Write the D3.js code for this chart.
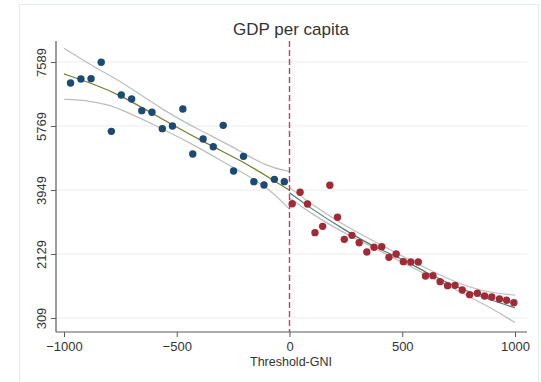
<!DOCTYPE html>
<html>
<head>
<meta charset="utf-8">
<script src="https://cdn.jsdelivr.net/npm/d3@7"></script>
<style>
  html, body { margin: 0; padding: 0; background: #ffffff; }
  svg { display: block; font-family: "Liberation Sans", Arial, sans-serif; }
</style>
</head>
<body>
<svg id="chart" width="541" height="382"></svg>
<script>
// Binned means below the threshold
const leftX = [-971, -925, -880, -835, -790, -746, -700, -655, -610, -564, -519,
               -473, -429, -383, -338, -294, -248, -204, -158, -113, -67, -23];
const leftY = [6992, 7106, 7115, 7580, 5617, 6651, 6537, 6205, 6158, 5693, 5769,
               6252, 4973, 5399, 5181, 5788, 4489, 4906, 4186, 4091, 4252, 4186];

// Binned means above the threshold
const rightX = [12, 47, 80, 113, 147, 179, 213, 243, 277, 309, 343, 375, 409, 441, 473,
                505, 538, 571, 603, 636, 668, 701, 734, 766, 799, 833, 865, 897, 931, 963, 995];
const rightY = [3560, 3883, 3551, 2736, 2916, 4082, 3172, 2546, 2660, 2451, 2186, 2319, 2338, 2034, 2129,
                1911, 1902, 1902, 1503, 1513, 1342, 1229, 1238, 1105, 973, 1011, 935, 906, 849, 812, 745];

// Local polynomial fit and confidence band, left side
const fitLX   = [-1000, -880, -750, -530, -340, -205, -86, 0];
const fitLY   = [7250, 6990, 6660, 5830, 5180, 4754, 4282, 3940];
const upLX    = [-1000, -850, -750, -564, -400, -250, -100, 0];
const upLY    = [7980, 7380, 7050, 6230, 5650, 5180, 4600, 4480];
const loLX    = [-1000, -900, -800, -750, -564, -400, -250, -100, 0];
const loLY    = [6530, 6500, 6370, 6250, 5700, 5150, 4580, 4060, 3400];

// Local polynomial fit and confidence band, right side
const fitRX   = [0, 100, 250, 375, 500, 600, 750, 900, 1000];
const fitRY   = [3870, 3400, 2790, 2330, 1990, 1620, 1160, 800, 600];
const upRX    = [0, 100, 250, 500, 750, 900, 1000];
const upRY    = [4020, 3530, 2900, 2070, 1250, 1020, 960];
const loRX    = [0, 100, 250, 500, 750, 900, 1000];
const loRY    = [3720, 3260, 2690, 1900, 1070, 580, 180];

const yTicks = [309, 2129, 3949, 5769, 7589];
const xTicks = [-1000, -500, 0, 500, 1000];

const svg = d3.select("#chart");

// outer frame
svg.append("rect")
  .attr("x", 19.5).attr("y", 4.5).attr("width", 519).attr("height", 380)
  .attr("fill", "none").attr("stroke", "#e4ebf1");

const x = d3.scaleLinear().domain([-1000, 1000]).range([64, 515]);
const y = d3.scaleLinear().domain([309, 7589]).range([318, 62]);

const plotL = 56, plotR = 527, plotT = 41, plotB = 332;

// gridlines
svg.append("g").selectAll("line").data(yTicks).join("line")
  .attr("x1", plotL).attr("x2", plotR)
  .attr("y1", d => y(d)).attr("y2", d => y(d))
  .attr("stroke", "#ececec").attr("stroke-width", 1);

// axes
const xAxis = svg.append("g").attr("transform", `translate(0,${plotB})`)
  .call(d3.axisBottom(x).tickValues(xTicks).tickSize(5).tickPadding(2).tickFormat(d3.format("d")));
const yAxis = svg.append("g").attr("transform", `translate(${plotL},0)`)
  .call(d3.axisLeft(y).tickValues(yTicks).tickSize(5).tickPadding(4).tickFormat(d3.format("d")));

[xAxis, yAxis].forEach(g => {
  g.select(".domain").remove();
  g.selectAll(".tick line").attr("stroke", "#5a5a5a");
  g.selectAll(".tick text").attr("fill", "#333").attr("font-size", 13)
    .attr("font-family", "Liberation Sans, Arial, sans-serif");
});
xAxis.selectAll(".tick text").attr("dy", "0.9em");
yAxis.selectAll(".tick text")
  .attr("text-anchor", "middle")
  .attr("transform", "rotate(-90)")
  .attr("x", 0).attr("dy", 0)
  .attr("y", -10);

// axis lines
svg.append("line").attr("x1", plotL).attr("x2", plotL).attr("y1", plotT).attr("y2", plotB)
  .attr("stroke", "#5a5a5a").attr("stroke-width", 1.2);
svg.append("line").attr("x1", plotL).attr("x2", plotR).attr("y1", plotB).attr("y2", plotB)
  .attr("stroke", "#5a5a5a").attr("stroke-width", 1.2);

// curves
const line = d3.line().x(d => x(d[0])).y(d => y(d[1])).curve(d3.curveBasis);
const zip = (a, b) => a.map((v, i) => [v, b[i]]);

const ciColor = "#bdbdbd";
[[upLX, upLY], [loLX, loLY], [upRX, upRY], [loRX, loRY]].forEach(([a, b]) => {
  svg.append("path").attr("d", line(zip(a, b)))
    .attr("fill", "none").attr("stroke", ciColor).attr("stroke-width", 1.2);
});
svg.append("path").attr("d", line(zip(fitLX, fitLY)))
  .attr("fill", "none").attr("stroke", "#6f7d2a").attr("stroke-width", 1.2);
svg.append("path").attr("d", line(zip(fitRX, fitRY)))
  .attr("fill", "none").attr("stroke", "#4d7f73").attr("stroke-width", 1.2);

// threshold
svg.append("line").attr("x1", x(0)).attr("x2", x(0)).attr("y1", plotT).attr("y2", plotB)
  .attr("stroke", "#c93a62").attr("stroke-width", 1.4).attr("stroke-dasharray", "6,3");

// points
svg.append("g").selectAll("circle").data(zip(leftX, leftY)).join("circle")
  .attr("cx", d => x(d[0])).attr("cy", d => y(d[1])).attr("r", 3.7)
  .attr("fill", "#1b4a74");
svg.append("g").selectAll("circle").data(zip(rightX, rightY)).join("circle")
  .attr("cx", d => x(d[0])).attr("cy", d => y(d[1])).attr("r", 3.7)
  .attr("fill", "#a02a36");

// titles
svg.append("text").attr("x", 291).attr("y", 35).attr("text-anchor", "middle")
  .attr("font-size", 17).attr("fill", "#333").text("GDP per capita");
svg.append("text").attr("x", 291).attr("y", 366).attr("text-anchor", "middle")
  .attr("font-size", 12.5).attr("fill", "#333").text("Threshold-GNI");
</script>
</body>
</html>
